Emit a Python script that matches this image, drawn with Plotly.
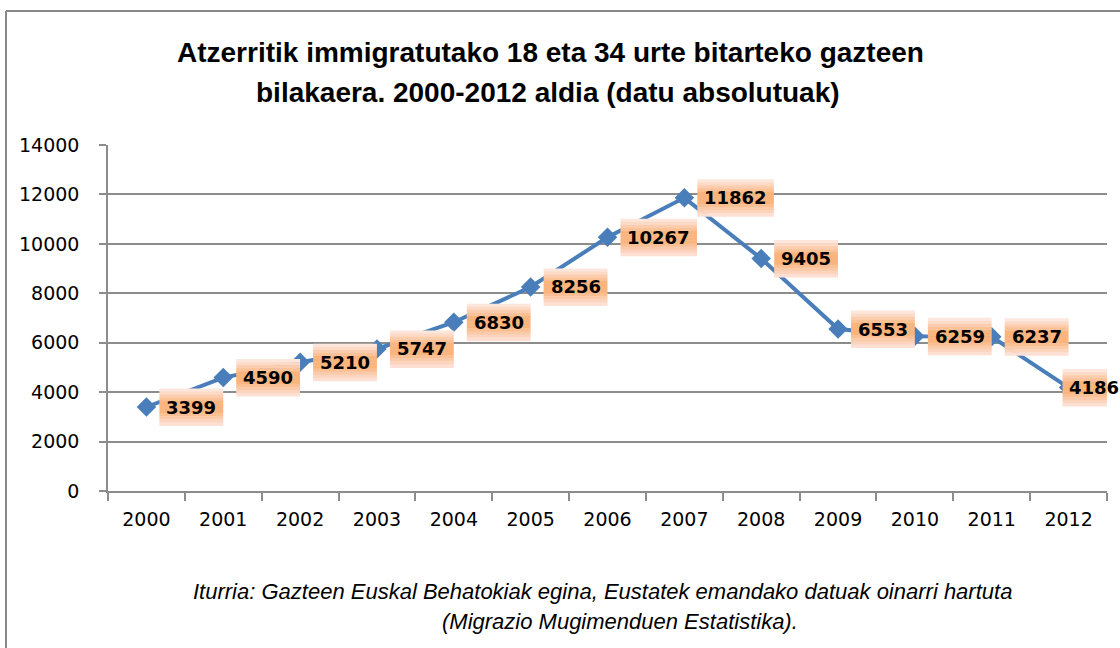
import plotly.graph_objects as go

# ---- data ----
years = ["2000", "2001", "2002", "2003", "2004", "2005", "2006",
         "2007", "2008", "2009", "2010", "2011", "2012"]
values = [3399, 4590, 5210, 5747, 6830, 8256, 10267, 11862, 9405, 6553, 6259, 6237, 4186]
y_ticks = [0, 2000, 4000, 6000, 8000, 10000, 12000, 14000]

title_lines = ["Atzerritik immigratutako 18 eta 34 urte bitarteko gazteen",
               "bilakaera. 2000-2012 aldia (datu absolutuak)"]
source_lines = ["Iturria: Gazteen Euskal Behatokiak egina, Eustatek emandako datuak oinarri hartuta",
                "(Migrazio Mugimenduen Estatistika)."]

W, H = 1120, 648
L, R, T, B = 108, 13, 145, 157
PW, PH = W - L - R, H - T - B

BLUE = "#4a7ebb"
GRID = "#8c8c8c"
NARROW = "Liberation Sans Narrow, Arial Narrow, sans-serif"
TICKFONT = "DejaVu Sans, sans-serif"

# label box gradient (top -> middle -> bottom)
GRAD_TOP = (253, 236, 232)
GRAD_MID = (250, 180, 126)
GRAD_BOT = (253, 228, 222)
N_BANDS = 12
BOX_H = 37


def px_x(px):
    return (px - L) / PW


def px_y(py):
    return (H - B - py) / PH


def mix(a, b, t):
    return "rgb(%d,%d,%d)" % tuple(round(a[k] + (b[k] - a[k]) * t) for k in range(3))


def band_color(f):
    # f in [0,1] from top to bottom
    if f < 0.5:
        t = min(1.0, f / 0.38)
        return mix(GRAD_TOP, GRAD_MID, t)
    t = max(0.0, (f - 0.62) / 0.38)
    return mix(GRAD_MID, GRAD_BOT, t)


fig = go.Figure()
fig.add_trace(go.Scatter(
    x=years, y=values, mode="lines+markers",
    line=dict(color=BLUE, width=4),
    marker=dict(symbol="diamond", size=15, color=BLUE),
    hoverinfo="x+y", showlegend=False,
))

annotations = []
shapes = []
n = len(values)
for i, v in enumerate(values):
    txt = str(v)
    box_w = 12.7 * len(txt) + 13
    off = 13 if i < n - 1 else -6
    band_h = BOX_H / N_BANDS
    for b in range(N_BANDS):
        top = BOX_H / 2 - b * band_h
        shapes.append(dict(
            type="rect", xref="x", yref="y",
            xsizemode="pixel", ysizemode="pixel",
            xanchor=i, yanchor=v,
            x0=off, x1=off + box_w, y0=top - band_h - 0.5, y1=top,
            fillcolor=band_color((b + 0.5) / N_BANDS),
            line=dict(width=0), layer="above",
        ))
    annotations.append(dict(
        x=i, y=v, xref="x", yref="y", text=txt, showarrow=False,
        xanchor="center", yanchor="middle", xshift=off + box_w / 2,
        font=dict(family="DejaVu Sans, sans-serif", size=18, color="black", weight="bold"),
    ))

# title lines
for line, py, px in zip(title_lines, [52, 92], [550, 548]):
    annotations.append(dict(
        x=px_x(px), y=px_y(py), xref="paper", yref="paper", text=line,
        showarrow=False, xanchor="center", yanchor="middle",
        font=dict(family=NARROW, size=28, color="black", weight="bold"),
    ))

# source lines
for line, py, px in zip(source_lines, [591, 621], [602, 620]):
    annotations.append(dict(
        x=px_x(px), y=px_y(py), xref="paper", yref="paper", text="<i>" + line + "</i>",
        showarrow=False, xanchor="center", yanchor="middle",
        font=dict(family=NARROW, size=22, color="black"),
    ))

shapes += [
    dict(type="line", xref="paper", yref="paper",
         x0=px_x(6), x1=px_x(W + 10), y0=px_y(11), y1=px_y(11),
         line=dict(color="#888888", width=2), layer="above"),
    dict(type="line", xref="paper", yref="paper",
         x0=px_x(6), x1=px_x(6), y0=px_y(11), y1=px_y(H + 10),
         line=dict(color="#888888", width=2), layer="above"),
]

fig.update_layout(
    width=W, height=H,
    margin=dict(l=L, r=R, t=T, b=B, autoexpand=False),
    paper_bgcolor="white", plot_bgcolor="white",
    annotations=annotations, shapes=shapes,
    xaxis=dict(
        type="category", range=[-0.5, 12.5],
        showgrid=False, showline=True, linecolor=GRID, linewidth=1.5,
        ticks="outside", tickson="boundaries", ticklen=8, tickcolor=GRID, tickwidth=1.5,
        tickfont=dict(family=TICKFONT, size=19, color="black"),
        ticklabelstandoff=10, fixedrange=True,
    ),
    yaxis=dict(
        range=[0, 14000], tickvals=y_ticks, tickformat="d",
        showgrid=True, gridcolor=GRID, gridwidth=1.5,
        showline=True, linecolor=GRID, linewidth=1.5,
        ticks="outside", ticklen=7, tickcolor=GRID, tickwidth=1.5,
        tickfont=dict(family=TICKFONT, size=19, color="black"),
        ticklabelstandoff=16, zeroline=False, fixedrange=True,
    ),
)

fig.write_html(
    "out.html",
    config={"displayModeBar": False},
    post_script="document.body.style.margin='0';document.body.style.overflow='hidden';",
)
